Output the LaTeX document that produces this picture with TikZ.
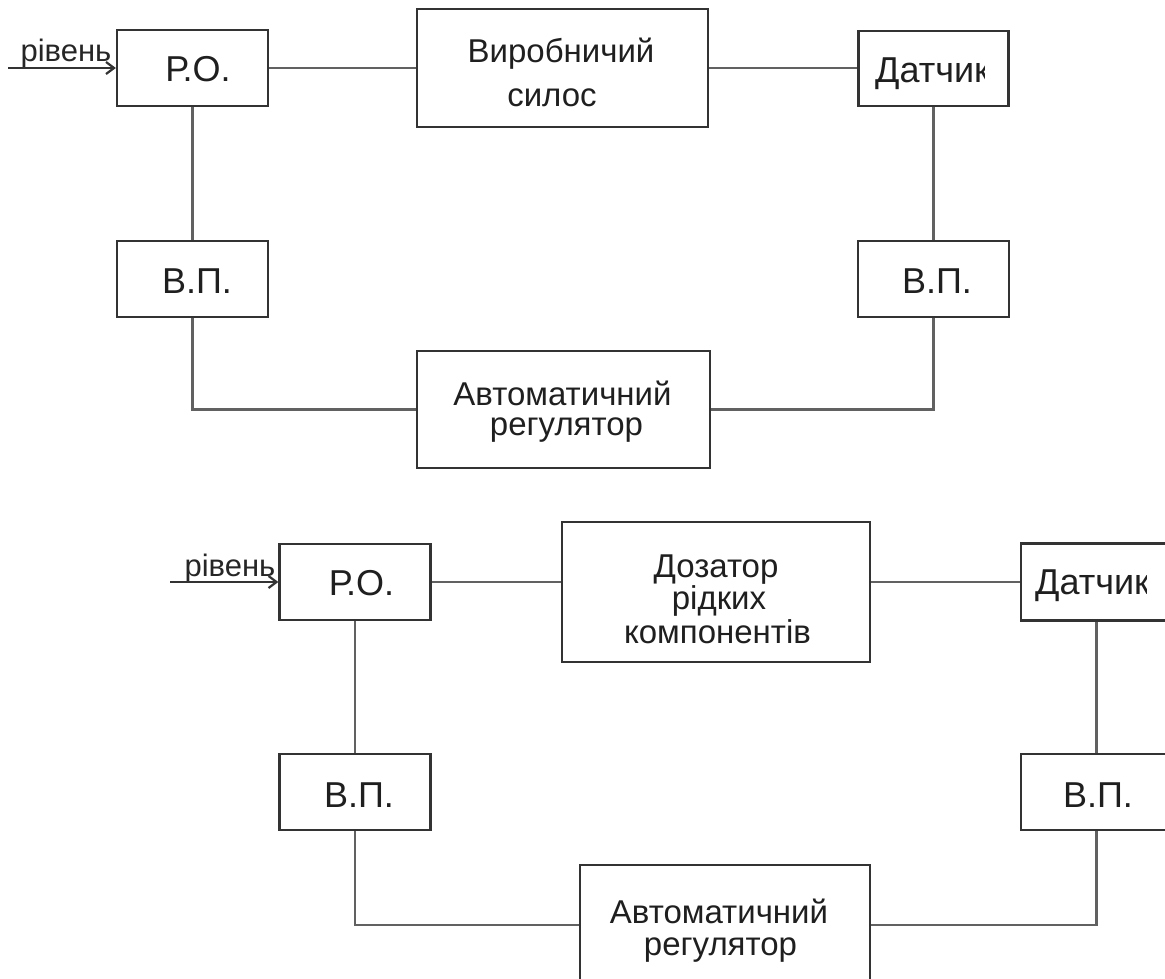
\documentclass[tikz,border=0pt]{standalone}
\usepackage{fontspec}
\setmainfont{Liberation Sans}
\usetikzlibrary{arrows.meta}
\newcommand\fntB{\fontsize{33}{33}\selectfont}
\newcommand\fntS{\fontsize{36}{36}\selectfont}
\newcommand\fntL{\fontsize{31}{31}\selectfont}
\tikzset{
  box/.style={draw=black!80, line width=2.3pt, inner sep=0pt},
  conn/.style={draw=black!62, line width=2.2pt},
  arr/.style={draw=black!80, line width=2.2pt, -{Straight Barb[length=8pt,width=12pt,line width=2.2pt]}},
  txtB/.style={anchor=base, inner sep=0pt, font=\fntB, text=black!88},
  txtS/.style={anchor=base, inner sep=0pt, font=\fntS, text=black!88},
  txtL/.style={anchor=base, inner sep=0pt, font=\fntL, text=black!85},
}
\begin{document}
\begin{tikzpicture}[x=1pt,y=-1pt]
\useasboundingbox (0,0) rectangle (1165,979);
\clip (0,0) rectangle (1165,979);

% ---------- top diagram ----------
\node[box, minimum width=151pt, minimum height=76pt] (ro1) at (192.5,68) {};
\node[box, minimum width=291pt, minimum height=118pt] (vs) at (562.5,68) {};
\node[box, minimum width=150pt, minimum height=75pt] (dat1) at (933.5,68.5) {};
\node[box, minimum width=151pt, minimum height=76pt] (vp1) at (192.5,279) {};
\node[box, minimum width=151pt, minimum height=76pt] (vp2) at (933.5,279) {};
\node[box, minimum width=293pt, minimum height=117pt] (ar1) at (563.5,409.5) {};

\node[txtS] (ro1t) at (198,82) {Р.О.};
\node[txtB] (vsa) at (561,63) {Виробничий};
\node[txtB] (vsb) at (552,107) {силос};
\begin{scope}
  \clip (dat1.north west) rectangle ([xshift=127pt]dat1.south west);
  \node[txtS, anchor=base west] (dat1t) at (875,83) {Датчик};
\end{scope}
\node[txtS] (vp1t) at (197,293) {В.П.};
\node[txtS] (vp2t) at (937,293) {В.П.};
\node[txtB] (ar1a) at (562.5,405) {Автоматичний};
\node[txtB] (ar1b) at (566.5,435) {регулятор};
\node[txtL] (lev1) at (66,62) {рівень};

\coordinate (in1) at (8,68);
\draw[arr] (in1) -- (ro1.west);
\draw[conn] (ro1.east) -- (ro1.east -| vs.west);
\draw[conn] (vs.east) -- (vs.east -| dat1.west);
\draw[conn] (ro1.south) -- (vp1.north);
\draw[conn] (dat1.south) -- (vp2.north);
\draw[conn] (vp1.south) |- (ar1.west);
\draw[conn] (vp2.south) |- (ar1.east);

% ---------- bottom diagram ----------
\node[box, minimum width=151pt, minimum height=76pt] (ro2) at (355,582) {};
\node[box, minimum width=308pt, minimum height=140pt] (doz) at (716,592) {};
\node[box, minimum width=151pt, minimum height=77pt] (dat2) at (1096.5,582) {};
\node[box, minimum width=151pt, minimum height=76pt] (vp3) at (355,792) {};
\node[box, minimum width=151pt, minimum height=76pt] (vp4) at (1096.5,792) {};
\node[box, minimum width=290pt, minimum height=120pt] (ar2) at (725,925) {};

\node[txtS] (ro2t) at (361.5,595) {Р.О.};
\node[txtB] (doza) at (716,577) {Дозатор};
\node[txtB] (dozb) at (719,609) {рідких};
\node[txtB] (dozc) at (717.5,643) {компонентів};
\begin{scope}
  \clip (dat2.north west) rectangle ([xshift=127pt]dat2.south west);
  \node[txtS, anchor=base west] (dat2t) at (1035,594) {Датчик};
\end{scope}
\node[txtS] (vp3t) at (359,807) {В.П.};
\node[txtS] (vp4t) at (1098,807) {В.П.};
\node[txtB] (ar2a) at (719,923) {Автоматичний};
\node[txtB] (ar2b) at (720.5,955) {регулятор};
\node[txtL] (lev2) at (230,576) {рівень};

\coordinate (in2) at (170,582);
\draw[arr] (in2) -- (ro2.west);
\draw[conn] (ro2.east) -- (ro2.east -| doz.west);
\draw[conn] (doz.east |- ro2.east) -- (dat2.west);
\draw[conn] (ro2.south) -- (vp3.north);
\draw[conn] (dat2.south) -- (vp4.north);
\draw[conn] (vp3.south) |- (ar2.west);
\draw[conn] (vp4.south) |- (ar2.east);
\end{tikzpicture}
\end{document}
